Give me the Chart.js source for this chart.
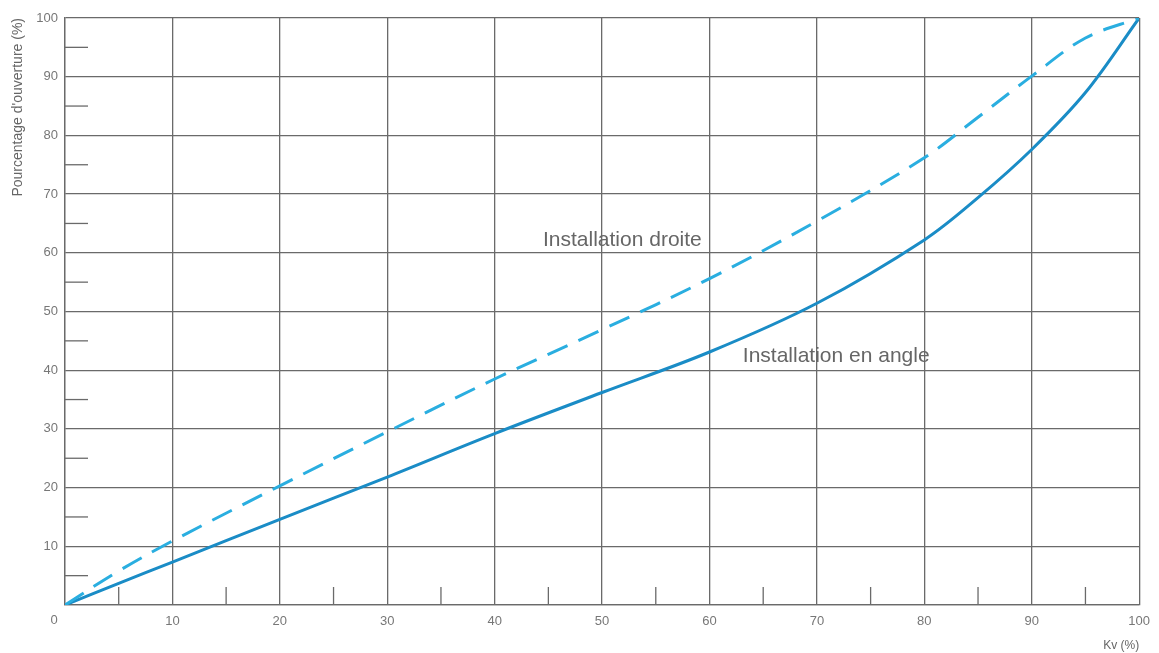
<!DOCTYPE html>
<html>
<head>
<meta charset="utf-8">
<script src="https://cdn.jsdelivr.net/npm/chart.js@4/dist/chart.umd.min.js"></script>
<style>
  html, body { margin: 0; padding: 0; background: #fff; }
  #wrap { width: 1159px; height: 653px; }
</style>
</head>
<body>
<div id="wrap"><canvas id="chart"></canvas></div>
<script>
// Kv (%) sample points and opening percentage
const kv = [0, 5, 10, 20, 30, 40, 50, 60, 70, 80, 85, 90, 95, 100];
const droite = [0, 5.8, 10.9, 20.3, 29.5, 38.5, 46.9, 55.6, 65.4, 76.2, 83.1, 90.1, 96.6, 100];
const angle = [0, 3.7, 7.3, 14.6, 21.8, 29.2, 36.2, 43.1, 51.4, 62.2, 69.4, 77.6, 87.3, 100];

const minorTicks = [5, 15, 25, 35, 45, 55, 65, 75, 85, 95];

const labelDroite = 'Installation droite';
const labelAngle = 'Installation en angle';

const GRID = '#6a6a6a';
const TEXT = '#666';
const FONT = '"Liberation Sans", Arial, sans-serif';

const toPoints = ys => kv.map((x, i) => ({ x, y: ys[i] }));

const decorPlugin = {
  id: 'decor',
  beforeDatasetsDraw(chart) {
    const { ctx, scales: { x, y } } = chart;
    ctx.save();
    ctx.strokeStyle = GRID;
    ctx.lineWidth = 1.3;
    minorTicks.forEach(v => {
      const py = y.getPixelForValue(v);
      ctx.beginPath();
      ctx.moveTo(x.left, py);
      ctx.lineTo(x.left + 23, py);
      ctx.stroke();
      const px = x.getPixelForValue(v);
      ctx.beginPath();
      ctx.moveTo(px, y.bottom);
      ctx.lineTo(px, y.bottom - 18);
      ctx.stroke();
    });
    ctx.restore();
  },
  afterDatasetsDraw(chart) {
    const { ctx, scales: { x, y } } = chart;
    ctx.save();
    ctx.fillStyle = TEXT;
    ctx.font = '21px ' + FONT;
    ctx.textBaseline = 'middle';
    ctx.textAlign = 'left';
    ctx.fillText(labelDroite, x.getPixelForValue(44.5), y.getPixelForValue(62.2));
    ctx.fillText(labelAngle, x.getPixelForValue(63.1), y.getPixelForValue(42.4));
    // shared origin label
    ctx.font = '13px ' + FONT;
    ctx.textAlign = 'center';
    ctx.fillStyle = '#777';
    ctx.fillText('0', x.getPixelForValue(0) - 11, y.bottom + 15);
    ctx.restore();
  },
};

new Chart(document.getElementById('chart'), {
  type: 'line',
  data: {
    datasets: [
      {
        label: labelDroite,
        data: toPoints(droite),
        borderColor: '#2aaee0',
        borderWidth: 3,
        borderDash: [22, 12],
        pointRadius: 0,
        tension: 0.35,
        fill: false,
      },
      {
        label: labelAngle,
        data: toPoints(angle),
        borderColor: '#1a8cc6',
        borderWidth: 3,
        pointRadius: 0,
        tension: 0.35,
        fill: false,
      },
    ],
  },
  options: {
    responsive: true,
    maintainAspectRatio: false,
    animation: false,
    layout: { padding: { top: 18, right: 19, left: 0, bottom: 0 } },
    plugins: {
      legend: { display: false },
      tooltip: { enabled: false },
    },
    scales: {
      x: {
        type: 'linear',
        min: 0,
        max: 100,
        afterFit: s => { s.height = 48; },
        grid: { color: GRID, lineWidth: 1.3, drawTicks: false },
        border: { color: GRID, width: 1.3 },
        ticks: {
          stepSize: 10,
          padding: 9,
          color: '#777',
          font: { size: 13, family: FONT },
          callback: v => (v === 0 ? '' : v),
        },
        title: {
          display: true,
          text: 'Kv (%)',
          align: 'end',
          color: TEXT,
          padding: { top: 6, bottom: 0 },
          font: { size: 12, family: FONT },
        },
      },
      y: {
        min: 0,
        max: 100,
        afterFit: s => { s.width = 65; },
        grid: { color: GRID, lineWidth: 1.3, drawTicks: false },
        border: { color: GRID, width: 1.3 },
        ticks: {
          stepSize: 10,
          padding: 7,
          color: '#777',
          font: { size: 13, family: FONT },
          callback: v => (v === 0 ? '' : v),
        },
        title: {
          display: true,
          text: "Pourcentage d'ouverture (%)",
          align: 'end',
          color: TEXT,
          padding: { top: 10, bottom: 4 },
          font: { size: 14, family: FONT },
        },
      },
    },
  },
  plugins: [decorPlugin],
});
</script>
</body>
</html>
